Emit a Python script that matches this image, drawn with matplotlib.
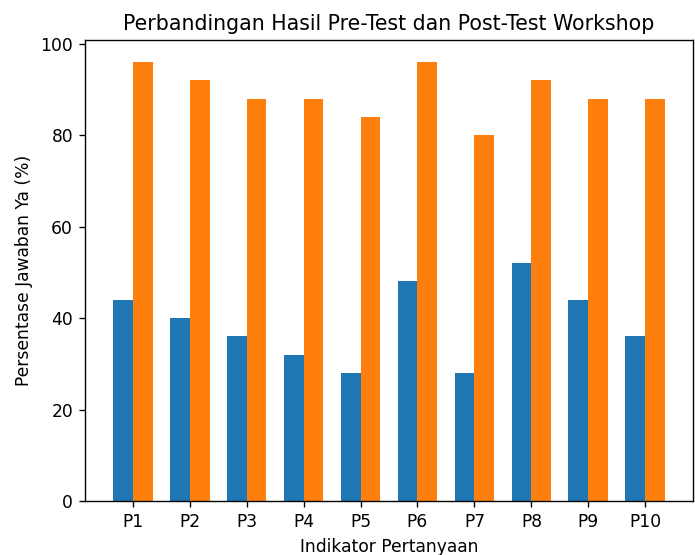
import matplotlib
matplotlib.use("Agg")
from matplotlib import pyplot as plt
import numpy as np

labels = ['P1', 'P2', 'P3', 'P4', 'P5', 'P6', 'P7', 'P8', 'P9', 'P10']
pre_test = [44, 40, 36, 32, 28, 48, 28, 52, 44, 36]
post_test = [96, 92, 88, 88, 84, 96, 80, 92, 88, 88]

x = np.arange(len(labels))
width = 0.35

dpi = 123
fig = plt.figure(figsize=(695 / dpi, 555 / dpi), dpi=dpi)
ax = fig.add_axes([85 / 695, 1 - 501 / 555, 608 / 695, 461 / 555])
ax.bar(x - width / 2, pre_test, width, label='Pre-Test')
ax.bar(x + width / 2, post_test, width, label='Post-Test')

ax.set_xticks(x)
ax.set_xticklabels(labels)
ax.set_xlabel('Indikator Pertanyaan')
ax.set_ylabel('Persentase Jawaban Ya (%)')
ax.set_title('Perbandingan Hasil Pre-Test dan Post-Test Workshop')

plt.savefig('out.png', dpi=dpi)
